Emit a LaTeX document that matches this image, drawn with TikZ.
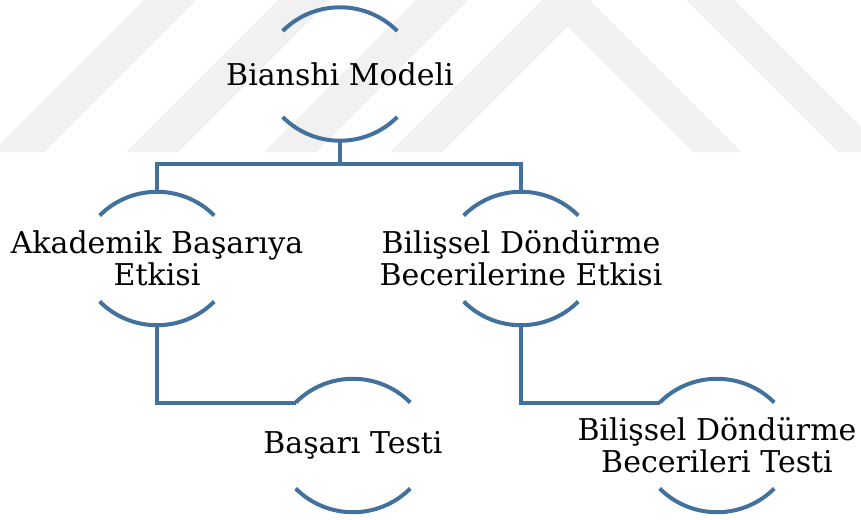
\documentclass[tikz,border=0pt]{standalone}
\usepackage{fontspec}
\setmainfont{DejaVu Serif}
\usetikzlibrary{calc}
\definecolor{hubblue}{HTML}{41719C}
\definecolor{markgray}{HTML}{F1F1F1}
\tikzset{
  link/.style={draw=hubblue,line width=3.4pt},
  rim/.style={draw=hubblue,line width=3.4pt},
  watermark/.style={fill=markgray,draw=none}
}
% top and bottom arcs round a topic, with anchors for the links
\newcommand\hubrims[1]{%
  \draw[rim] ([shift={(-57.3,43)}]#1.center) arc[start angle=135,end angle=45,radius=2.43cm];
  \draw[rim] ([shift={(-57.3,-43)}]#1.center) arc[start angle=225,end angle=315,radius=2.43cm];
  \coordinate (#1-n) at ([shift={(0,66.7)}]#1.center);
  \coordinate (#1-s) at ([shift={(0,-66.7)}]#1.center);
  \coordinate (#1-nw) at ([shift={(-57.3,43)}]#1.center);
}

\begin{document}
\begin{tikzpicture}[x=0.03cm,y=0.03cm,
  topic/.style={align=center,inner sep=0pt,
    font=\fontsize{25.6}{27}\selectfont}
]
  \useasboundingbox (0,0) rectangle (861,-519);
  % faint background stripes
  \begin{scope}
    \clip (0,0) rectangle (861,-519);
    \foreach \x in {-8,126,264}
      \fill[watermark] (\x,-152) -- ++(52,0) -- ++(152,152) -- ++(-52,0) -- cycle;
    \fill[watermark] (390,-152) -- (542,0) -- (590,0) -- (742,-152)
      -- (693,-152) -- (567.5,-26.5) -- (442,-152) -- cycle;
    \fill[watermark] (838,-152) -- ++(48,0) -- ++(-152,152) -- ++(-48,0) -- cycle;
  \end{scope}
  \node[topic] (bianshi) at (340,-74) {Bianshi Modeli};
  \node[topic] (akademik) at (157,-258.5) {Akademik Başarıya\\Etkisi};
  \node[topic] (rotation) at (521,-258.5) {Bilişsel Döndürme\\Becerilerine Etkisi};
  \node[topic] (basari) at (353,-445.5) {Başarı Testi};
  \node[topic] (rotationtest) at (717,-445.5) {Bilişsel Döndürme\\Becerileri Testi};
  \foreach \n in {bianshi,akademik,rotation,basari,rotationtest}
    \hubrims{\n};
  \coordinate (split) at ($(bianshi-s)+(0,-23)$);
  \draw[link] (bianshi-s) -- (split);
  \draw[link] (akademik-n) |- (split) -| (rotation-n);
  \draw[link] (akademik-s) |- (basari-nw);
  \draw[link] (rotation-s) |- (rotationtest-nw);
\end{tikzpicture}
\end{document}
